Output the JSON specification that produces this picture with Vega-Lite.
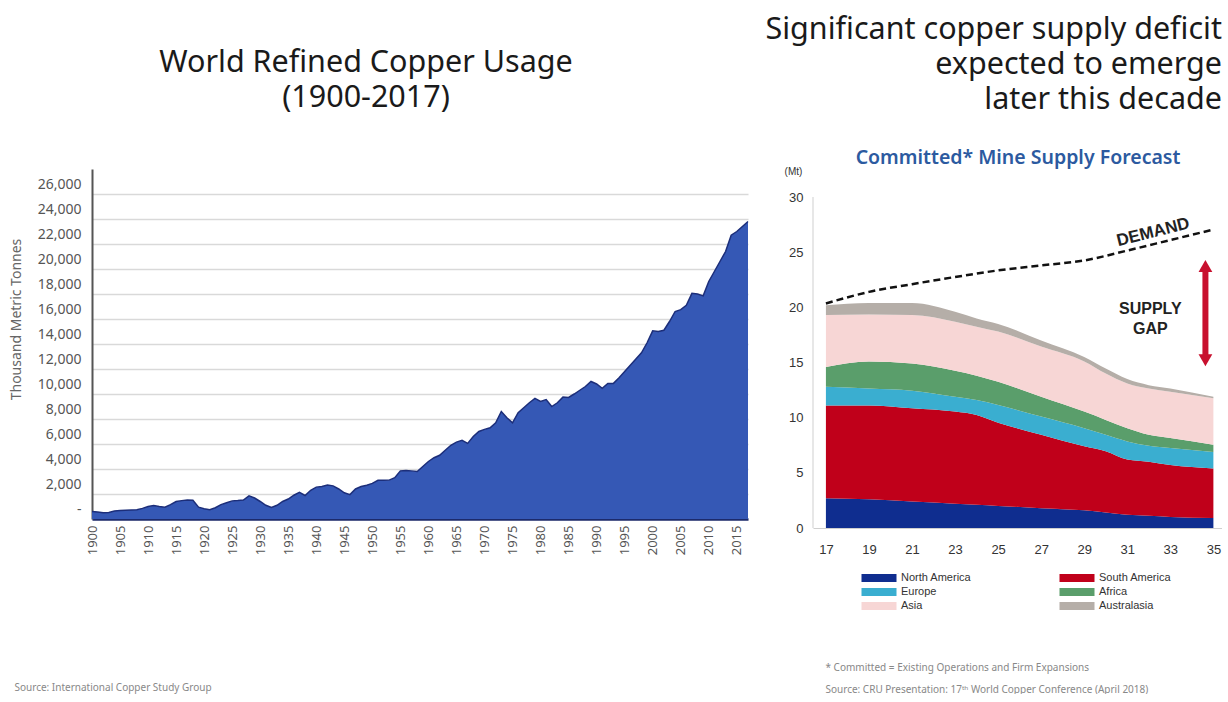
{
  "$schema": "https://vega.github.io/schema/vega-lite/v6.json",
  "padding": {"left": 9, "top": 14, "right": 0, "bottom": 0},
  "background": "white",
  "config": {"view": {"stroke": null}, "font": "Noto Sans"},
  "spacing": 14,
  "resolve": {"scale": {"color": "independent", "shape": "independent"}, "legend": {"color": "independent", "shape": "independent"}},
  "hconcat": [
    {
      "width": 656,
      "height": 350,
      "title": {
        "text": ["World Refined Copper Usage", "(1900-2017)"],
        "font": "Noto Sans",
        "fontSize": 30.5,
        "fontWeight": "normal",
        "lineHeight": 35,
        "color": "#1a1a1a",
        "anchor": "middle",
        "frame": "group",
        "dx": -54,
        "offset": 56
      },
      "data": {
        "values": [
          {"year": 1900, "usage": 600}, {"year": 1901, "usage": 560}, {"year": 1902, "usage": 500}, {"year": 1903, "usage": 520},
          {"year": 1904, "usage": 640}, {"year": 1905, "usage": 680}, {"year": 1906, "usage": 700}, {"year": 1907, "usage": 720},
          {"year": 1908, "usage": 740}, {"year": 1909, "usage": 850}, {"year": 1910, "usage": 1000}, {"year": 1911, "usage": 1070},
          {"year": 1912, "usage": 1000}, {"year": 1913, "usage": 950}, {"year": 1914, "usage": 1150}, {"year": 1915, "usage": 1400},
          {"year": 1916, "usage": 1470}, {"year": 1917, "usage": 1520}, {"year": 1918, "usage": 1500}, {"year": 1919, "usage": 950},
          {"year": 1920, "usage": 820}, {"year": 1921, "usage": 740}, {"year": 1922, "usage": 900}, {"year": 1923, "usage": 1150},
          {"year": 1924, "usage": 1300}, {"year": 1925, "usage": 1450}, {"year": 1926, "usage": 1480}, {"year": 1927, "usage": 1520},
          {"year": 1928, "usage": 1850}, {"year": 1929, "usage": 1680}, {"year": 1930, "usage": 1400}, {"year": 1931, "usage": 1100},
          {"year": 1932, "usage": 920}, {"year": 1933, "usage": 1100}, {"year": 1934, "usage": 1400}, {"year": 1935, "usage": 1600},
          {"year": 1936, "usage": 1900}, {"year": 1937, "usage": 2130}, {"year": 1938, "usage": 1880}, {"year": 1939, "usage": 2300},
          {"year": 1940, "usage": 2550}, {"year": 1941, "usage": 2600}, {"year": 1942, "usage": 2720}, {"year": 1943, "usage": 2650},
          {"year": 1944, "usage": 2400}, {"year": 1945, "usage": 2100}, {"year": 1946, "usage": 1950}, {"year": 1947, "usage": 2400},
          {"year": 1948, "usage": 2600}, {"year": 1949, "usage": 2700}, {"year": 1950, "usage": 2850}, {"year": 1951, "usage": 3100},
          {"year": 1952, "usage": 3100}, {"year": 1953, "usage": 3110}, {"year": 1954, "usage": 3300}, {"year": 1955, "usage": 3850},
          {"year": 1956, "usage": 3880}, {"year": 1957, "usage": 3850}, {"year": 1958, "usage": 3800}, {"year": 1959, "usage": 4200},
          {"year": 1960, "usage": 4600}, {"year": 1961, "usage": 4900}, {"year": 1962, "usage": 5100}, {"year": 1963, "usage": 5500},
          {"year": 1964, "usage": 5900}, {"year": 1965, "usage": 6150}, {"year": 1966, "usage": 6300}, {"year": 1967, "usage": 6050},
          {"year": 1968, "usage": 6600}, {"year": 1969, "usage": 7000}, {"year": 1970, "usage": 7170}, {"year": 1971, "usage": 7300},
          {"year": 1972, "usage": 7700}, {"year": 1973, "usage": 8600}, {"year": 1974, "usage": 8100}, {"year": 1975, "usage": 7700},
          {"year": 1976, "usage": 8500}, {"year": 1977, "usage": 8900}, {"year": 1978, "usage": 9300}, {"year": 1979, "usage": 9650},
          {"year": 1980, "usage": 9400}, {"year": 1981, "usage": 9550}, {"year": 1982, "usage": 9000}, {"year": 1983, "usage": 9300},
          {"year": 1984, "usage": 9750}, {"year": 1985, "usage": 9730}, {"year": 1986, "usage": 10000}, {"year": 1987, "usage": 10300},
          {"year": 1988, "usage": 10600}, {"year": 1989, "usage": 11000}, {"year": 1990, "usage": 10800}, {"year": 1991, "usage": 10450},
          {"year": 1992, "usage": 10850}, {"year": 1993, "usage": 10850}, {"year": 1994, "usage": 11300}, {"year": 1995, "usage": 11800},
          {"year": 1996, "usage": 12300}, {"year": 1997, "usage": 12800}, {"year": 1998, "usage": 13300}, {"year": 1999, "usage": 14100},
          {"year": 2000, "usage": 15050}, {"year": 2001, "usage": 15000}, {"year": 2002, "usage": 15100}, {"year": 2003, "usage": 15800},
          {"year": 2004, "usage": 16600}, {"year": 2005, "usage": 16750}, {"year": 2006, "usage": 17100}, {"year": 2007, "usage": 18050},
          {"year": 2008, "usage": 18000}, {"year": 2009, "usage": 17850}, {"year": 2010, "usage": 19000}, {"year": 2011, "usage": 19800},
          {"year": 2012, "usage": 20600}, {"year": 2013, "usage": 21400}, {"year": 2014, "usage": 22700}, {"year": 2015, "usage": 23000},
          {"year": 2016, "usage": 23400}, {"year": 2017, "usage": 23800}
        ]
      },
      "mark": {"type": "area", "color": "#3558b5", "opacity": 1, "line": {"color": "#1c2e7a", "strokeWidth": 1.5}},
      "encoding": {
        "x": {
          "field": "year",
          "type": "quantitative",
          "scale": {"domain": [1900, 2017], "nice": false, "zero": false},
          "axis": {
            "values": [1900, 1905, 1910, 1915, 1920, 1925, 1930, 1935, 1940, 1945, 1950, 1955, 1960, 1965, 1970, 1975, 1980, 1985, 1990, 1995, 2000, 2005, 2010, 2015],
            "format": "d",
            "labelAngle": -90,
            "labelFontSize": 13,
            "labelColor": "#555",
            "labelPadding": 6,
            "ticks": false,
            "grid": false,
            "domainColor": "#1c2a6b",
            "domainWidth": 2.5,
            "title": "Source: International Copper Study Group",
            "titleFontSize": 10,
            "titleFontWeight": "normal",
            "titleColor": "#888",
            "titleX": -78,
            "titleY": 168,
            "titleAlign": "left",
            "titleBaseline": "middle",
            "titleAngle": 0
          }
        },
        "y": {
          "field": "usage",
          "type": "quantitative",
          "scale": {"domain": [0, 28000], "nice": false},
          "axis": {
            "values": [0, 2000, 4000, 6000, 8000, 10000, 12000, 14000, 16000, 18000, 20000, 22000, 24000, 26000],
            "labelExpr": "datum.value == 0 ? '-' : format(datum.value, ',')",
            "labelOffset": -10,
            "labelFontSize": 14,
            "labelColor": "#555",
            "labelPadding": 11,
            "ticks": false,
            "gridColor": "#d9d9d9",
            "gridWidth": 1.5,
            "domainColor": "#555",
            "domainWidth": 2,
            "title": "Thousand Metric Tonnes",
            "titleFontSize": 14,
            "titleFontWeight": "normal",
            "titleColor": "#666",
            "titleX": -76,
            "titleY": 150,
            "titleAngle": -90,
            "titleAlign": "center",
            "titleBaseline": "middle"
          }
        }
      }
    },
    {
      "width": 409,
      "height": 359,
      "title": {
        "text": ["Significant copper supply deficit", "expected to emerge", "later this decade"],
        "font": "Noto Sans",
        "fontSize": 30.5,
        "fontWeight": "normal",
        "lineHeight": 35,
        "color": "#1a1a1a",
        "anchor": "end",
        "frame": "group",
        "offset": 32
      },
      "layer": [
        {
          "data": {
            "values": [
              {"year": 17, "region": "North America", "rank": 1, "mt": 2.7}, {"year": 17, "region": "South America", "rank": 2, "mt": 8.4}, {"year": 17, "region": "Europe", "rank": 3, "mt": 1.7}, {"year": 17, "region": "Africa", "rank": 4, "mt": 1.8}, {"year": 17, "region": "Asia", "rank": 5, "mt": 4.7}, {"year": 17, "region": "Australasia", "rank": 6, "mt": 0.9},
              {"year": 19, "region": "North America", "rank": 1, "mt": 2.6}, {"year": 19, "region": "South America", "rank": 2, "mt": 8.5}, {"year": 19, "region": "Europe", "rank": 3, "mt": 1.55}, {"year": 19, "region": "Africa", "rank": 4, "mt": 2.45}, {"year": 19, "region": "Asia", "rank": 5, "mt": 4.25}, {"year": 19, "region": "Australasia", "rank": 6, "mt": 1.05},
              {"year": 21, "region": "North America", "rank": 1, "mt": 2.4}, {"year": 21, "region": "South America", "rank": 2, "mt": 8.45}, {"year": 21, "region": "Europe", "rank": 3, "mt": 1.6}, {"year": 21, "region": "Africa", "rank": 4, "mt": 2.45}, {"year": 21, "region": "Asia", "rank": 5, "mt": 4.4}, {"year": 21, "region": "Australasia", "rank": 6, "mt": 1.1},
              {"year": 23, "region": "North America", "rank": 1, "mt": 2.2}, {"year": 23, "region": "South America", "rank": 2, "mt": 8.35}, {"year": 23, "region": "Europe", "rank": 3, "mt": 1.35}, {"year": 23, "region": "Africa", "rank": 4, "mt": 2.35}, {"year": 23, "region": "Asia", "rank": 5, "mt": 4.45}, {"year": 23, "region": "Australasia", "rank": 6, "mt": 0.9},
              {"year": 24, "region": "North America", "rank": 1, "mt": 2.1}, {"year": 24, "region": "South America", "rank": 2, "mt": 8.15}, {"year": 24, "region": "Europe", "rank": 3, "mt": 1.35}, {"year": 24, "region": "Africa", "rank": 4, "mt": 2.2}, {"year": 24, "region": "Asia", "rank": 5, "mt": 4.45}, {"year": 24, "region": "Australasia", "rank": 6, "mt": 0.75},
              {"year": 25, "region": "North America", "rank": 1, "mt": 2.0}, {"year": 25, "region": "South America", "rank": 2, "mt": 7.55}, {"year": 25, "region": "Europe", "rank": 3, "mt": 1.6}, {"year": 25, "region": "Africa", "rank": 4, "mt": 2.1}, {"year": 25, "region": "Asia", "rank": 5, "mt": 4.55}, {"year": 25, "region": "Australasia", "rank": 6, "mt": 0.7},
              {"year": 27, "region": "North America", "rank": 1, "mt": 1.8}, {"year": 27, "region": "South America", "rank": 2, "mt": 6.65}, {"year": 27, "region": "Europe", "rank": 3, "mt": 1.65}, {"year": 27, "region": "Africa", "rank": 4, "mt": 1.8}, {"year": 27, "region": "Asia", "rank": 5, "mt": 4.55}, {"year": 27, "region": "Australasia", "rank": 6, "mt": 0.55},
              {"year": 29, "region": "North America", "rank": 1, "mt": 1.6}, {"year": 29, "region": "South America", "rank": 2, "mt": 5.8}, {"year": 29, "region": "Europe", "rank": 3, "mt": 1.65}, {"year": 29, "region": "Africa", "rank": 4, "mt": 1.5}, {"year": 29, "region": "Asia", "rank": 5, "mt": 4.55}, {"year": 29, "region": "Australasia", "rank": 6, "mt": 0.4},
              {"year": 30, "region": "North America", "rank": 1, "mt": 1.4}, {"year": 30, "region": "South America", "rank": 2, "mt": 5.55}, {"year": 30, "region": "Europe", "rank": 3, "mt": 1.5}, {"year": 30, "region": "Africa", "rank": 4, "mt": 1.35}, {"year": 30, "region": "Asia", "rank": 5, "mt": 4.2}, {"year": 30, "region": "Australasia", "rank": 6, "mt": 0.45},
              {"year": 31, "region": "North America", "rank": 1, "mt": 1.2}, {"year": 31, "region": "South America", "rank": 2, "mt": 5.0}, {"year": 31, "region": "Europe", "rank": 3, "mt": 1.65}, {"year": 31, "region": "Africa", "rank": 4, "mt": 1.2}, {"year": 31, "region": "Asia", "rank": 5, "mt": 4.05}, {"year": 31, "region": "Australasia", "rank": 6, "mt": 0.4},
              {"year": 32, "region": "North America", "rank": 1, "mt": 1.1}, {"year": 32, "region": "South America", "rank": 2, "mt": 4.9}, {"year": 32, "region": "Europe", "rank": 3, "mt": 1.45}, {"year": 32, "region": "Africa", "rank": 4, "mt": 1.0}, {"year": 32, "region": "Asia", "rank": 5, "mt": 4.2}, {"year": 32, "region": "Australasia", "rank": 6, "mt": 0.3},
              {"year": 33, "region": "North America", "rank": 1, "mt": 1.0}, {"year": 33, "region": "South America", "rank": 2, "mt": 4.7}, {"year": 33, "region": "Europe", "rank": 3, "mt": 1.55}, {"year": 33, "region": "Africa", "rank": 4, "mt": 0.9}, {"year": 33, "region": "Asia", "rank": 5, "mt": 4.2}, {"year": 33, "region": "Australasia", "rank": 6, "mt": 0.3},
              {"year": 35, "region": "North America", "rank": 1, "mt": 0.9}, {"year": 35, "region": "South America", "rank": 2, "mt": 4.5}, {"year": 35, "region": "Europe", "rank": 3, "mt": 1.5}, {"year": 35, "region": "Africa", "rank": 4, "mt": 0.65}, {"year": 35, "region": "Asia", "rank": 5, "mt": 4.2}, {"year": 35, "region": "Australasia", "rank": 6, "mt": 0.15}
            ]
          },
          "mark": {"type": "area", "interpolate": "monotone", "opacity": 1},
          "encoding": {
            "x": {
              "field": "year",
              "type": "quantitative",
              "scale": {"domain": [16.4, 35.4], "nice": false, "zero": false},
              "axis": {
                "orient": "bottom",
                "values": [17, 19, 21, 23, 25, 27, 29, 31, 33, 35],
                "labelFont": "Liberation Sans",
                "labelFontSize": 13,
                "labelColor": "#333",
                "labelPadding": 15,
                "ticks": false,
                "grid": false,
                "domainColor": "#cfcfcf",
                "title": ["* Committed = Existing Operations and Firm Expansions", "Source: CRU Presentation: 17ᵗʰ World Copper Conference (April 2018)"],
                "titleFont": "Noto Sans",
                "titleFontSize": 10,
                "titleFontWeight": "normal",
                "titleColor": "#888",
                "titleLineHeight": 22,
                "titleX": 12,
                "titleY": 134,
                "titleAlign": "left",
                "titleBaseline": "top",
                "titleAngle": 0
              }
            },
            "y": {
              "field": "mt",
              "type": "quantitative",
              "stack": "zero",
              "scale": {"domain": [0, 32.54], "nice": false},
              "axis": {
                "orient": "left",
                "values": [0, 5, 10, 15, 20, 25, 30],
                "labelFont": "Liberation Sans",
                "labelFontSize": 13,
                "labelColor": "#333",
                "labelPadding": 10,
                "ticks": false,
                "grid": false,
                "domain": false,
                "title": "(Mt)",
                "titleFont": "Liberation Sans",
                "titleFontSize": 10,
                "titleFontWeight": "normal",
                "titleColor": "#333",
                "titleAngle": 0,
                "titleX": -20,
                "titleY": 2,
                "titleAlign": "center",
                "titleBaseline": "middle"
              }
            },
            "order": {"field": "rank", "type": "quantitative", "sort": "ascending"},
            "color": {
              "field": "region",
              "type": "nominal",
              "sort": ["North America", "Europe", "Asia", "South America", "Africa", "Australasia"],
              "scale": {
                "domain": ["North America", "Europe", "Asia", "South America", "Africa", "Australasia"],
                "range": ["#0f2d8f", "#3aaed0", "#f7d6d5", "#c0001a", "#5a9e6b", "#b5aea8"]
              },
              "legend": {
                "orient": "none",
                "legendX": 59,
                "legendY": 402,
                "columns": 2,
                "columnPadding": 87,
                "rowPadding": 2,
                "title": null,
                "symbolType": "M-2.5,-0.57H2.5V0.57H-2.5Z",
                "symbolSize": 196,
                "symbolStrokeWidth": 0,
                "labelFont": "Liberation Sans",
                "labelFontSize": 11,
                "labelColor": "#333",
                "labelOffset": 15
              }
            }
          }
        },
        {
          "data": {"values": [{"x": 16.4, "y": 0, "y2": 30}]},
          "mark": {"type": "rule", "color": "#cfcfcf", "strokeWidth": 1},
          "encoding": {
            "x": {"field": "x", "type": "quantitative", "axis": null},
            "y": {"field": "y", "type": "quantitative"},
            "y2": {"field": "y2"}
          }
        },
        {
          "data": {
            "values": [
              {"year": 17, "demand": 20.35}, {"year": 19, "demand": 21.4}, {"year": 21, "demand": 22.1}, {"year": 23, "demand": 22.75},
              {"year": 25, "demand": 23.35}, {"year": 27, "demand": 23.8}, {"year": 29, "demand": 24.25}, {"year": 31, "demand": 25.15},
              {"year": 33, "demand": 26.1}, {"year": 35, "demand": 27.05}
            ]
          },
          "mark": {"type": "line", "color": "#111", "strokeWidth": 2.5, "strokeDash": [7, 4], "interpolate": "monotone"},
          "encoding": {
            "x": {
              "field": "year",
              "type": "quantitative",
              "axis": {
                "orient": "top",
                "labels": false,
                "ticks": false,
                "domain": false,
                "grid": false,
                "title": "Committed* Mine Supply Forecast",
                "titleFont": "Noto Sans",
                "titleFontSize": 19.5,
                "titleFontWeight": 600,
                "titleColor": "#2c5aa0",
                "titleY": -12,
                "titleBaseline": "middle"
              }
            },
            "y": {"field": "demand", "type": "quantitative"}
          }
        },
        {
          "data": {"values": [{"x": 32.2, "y": 26.8, "label": "DEMAND"}]},
          "mark": {"type": "text", "font": "Liberation Sans", "fontWeight": "bold", "fontSize": 17, "angle": -14, "color": "#222"},
          "encoding": {
            "x": {"field": "x", "type": "quantitative", "axis": null},
            "y": {"field": "y", "type": "quantitative"},
            "text": {"field": "label"}
          }
        },
        {
          "data": {"values": [{"x": 32.07, "y": 19.83, "label": ["SUPPLY", "GAP"]}]},
          "mark": {"type": "text", "font": "Liberation Sans", "fontWeight": "bold", "fontSize": 16, "lineHeight": 20, "color": "#222"},
          "encoding": {
            "x": {"field": "x", "type": "quantitative", "axis": null},
            "y": {"field": "y", "type": "quantitative"},
            "text": {"field": "label"}
          }
        },
        {
          "data": {"values": [{"x": 34.63, "top": 23.7, "bottom": 15.3}]},
          "mark": {"type": "rule", "color": "#c8102e", "strokeWidth": 6},
          "encoding": {
            "x": {"field": "x", "type": "quantitative", "axis": null},
            "y": {"field": "top", "type": "quantitative"},
            "y2": {"field": "bottom"}
          }
        },
        {
          "data": {"values": [{"x": 34.63, "y": 23.75, "head": "up"}, {"x": 34.63, "y": 15.2, "head": "down"}]},
          "mark": {"type": "point", "filled": true, "color": "#c8102e", "size": 190, "opacity": 1},
          "encoding": {
            "x": {"field": "x", "type": "quantitative", "axis": null},
            "y": {"field": "y", "type": "quantitative"},
            "shape": {"field": "head", "type": "nominal", "scale": {"domain": ["up", "down"], "range": ["triangle-up", "triangle-down"]}, "legend": null}
          }
        }
      ]
    }
  ]
}
